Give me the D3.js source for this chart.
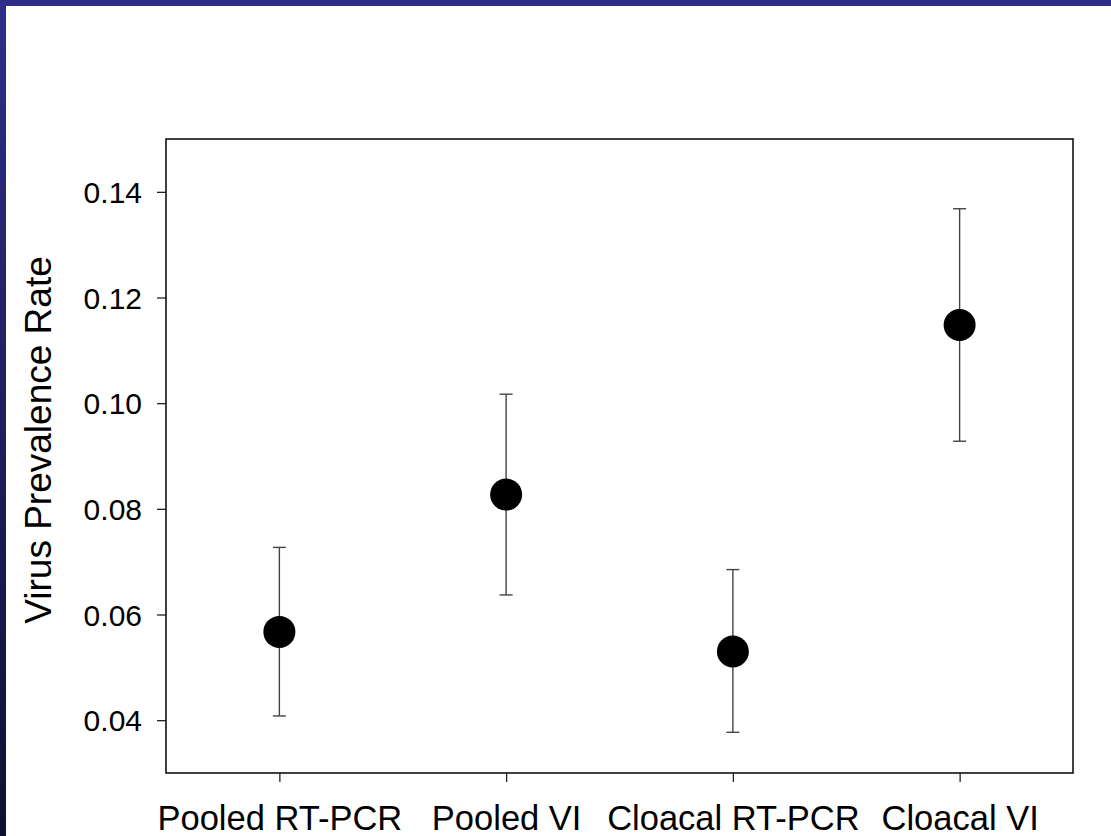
<!DOCTYPE html>
<html><head><meta charset="utf-8">
<script src="https://cdn.jsdelivr.net/npm/d3@7"></script>
<style>html,body{margin:0;padding:0;background:#fff;}svg{display:block;}</style>
</head><body>
<script>
const categories = ["Pooled RT-PCR", "Pooled VI", "Cloacal RT-PCR", "Cloacal VI"];
const means = [0.0567, 0.0827, 0.0530, 0.1148];
const upper = [0.0727, 0.1017, 0.0685, 0.1368];
const lower = [0.0408, 0.0637, 0.0377, 0.0928];
const yTicks = [0.04, 0.06, 0.08, 0.10, 0.12, 0.14];
const yLabel = "Virus Prevalence Rate";

const W = 1111, H = 836;
const svg = d3.select("body").append("svg").attr("width", W).attr("height", H);
const defs = svg.append("defs");
const grad = defs.append("linearGradient").attr("id","lg").attr("x1",0).attr("y1",0).attr("x2",0).attr("y2",1);
grad.append("stop").attr("offset","0%").attr("stop-color","#2e2e8a");
grad.append("stop").attr("offset","100%").attr("stop-color","#0f0f33");
svg.append("rect").attr("x",0).attr("y",0).attr("width",6).attr("height",H).attr("fill","url(#lg)");
svg.append("rect").attr("x",0).attr("y",0).attr("width",W).attr("height",6).attr("fill","#2e2e8a");

const L = 166, R = 1073, T = 139, B = 773;
const x = d3.scalePoint().domain(categories).range([L, R]).padding(0.5);
const y = d3.scaleLinear().domain([0.03, 0.15]).range([B, T]);

const yAxis = svg.append("g").attr("transform", `translate(${L},0)`)
  .call(d3.axisLeft(y).tickValues(yTicks).tickSize(9).tickPadding(15).tickFormat(d3.format(".2f")));
yAxis.select(".domain").remove();
yAxis.selectAll("line").attr("stroke","#222").attr("stroke-width",1.3);
yAxis.selectAll("text").attr("font-family","Liberation Sans, Arial, sans-serif").attr("font-size",30).attr("fill","#000").attr("dy","0.36em");

const xAxis = svg.append("g").attr("transform", `translate(0,${B})`)
  .call(d3.axisBottom(x).tickSize(9).tickPadding(24));
xAxis.select(".domain").remove();
xAxis.selectAll("line").attr("stroke","#222").attr("stroke-width",1.3);
xAxis.selectAll("text").attr("font-family","Liberation Sans, Arial, sans-serif").attr("font-size",34.5).attr("fill","#000").attr("dy","0.71em");

svg.append("rect").attr("x",L).attr("y",T).attr("width",R-L).attr("height",B-T)
  .attr("fill","none").attr("stroke","#111").attr("stroke-width",1.6);

svg.append("text").attr("transform",`translate(51,440) rotate(-90)`).attr("text-anchor","middle")
  .attr("font-family","Liberation Sans, Arial, sans-serif").attr("font-size",37).attr("fill","#000").text(yLabel);

const g = svg.append("g");
categories.forEach((c,i)=>{
  const cx = x(c);
  g.append("line").attr("x1",cx).attr("x2",cx).attr("y1",y(upper[i])).attr("y2",y(lower[i])).attr("stroke","#444").attr("stroke-width",1.4);
  [upper[i], lower[i]].forEach(v=>{
    g.append("line").attr("x1",cx-6.5).attr("x2",cx+6.5).attr("y1",y(v)).attr("y2",y(v)).attr("stroke","#444").attr("stroke-width",1.4);
  });
  g.append("circle").attr("cx",cx).attr("cy",y(means[i])).attr("r",16).attr("fill","#000");
});
</script>
</body></html>
